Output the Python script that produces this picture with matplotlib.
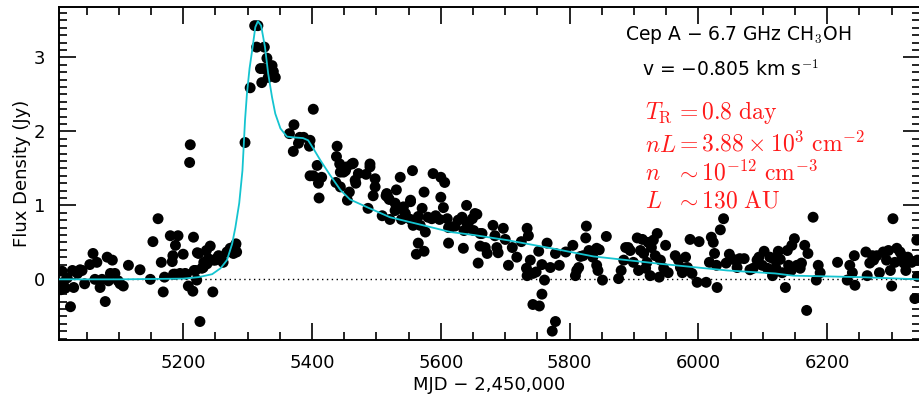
import matplotlib
matplotlib.use('Agg')
import matplotlib.pyplot as plt
from matplotlib.ticker import MultipleLocator

# observed flux densities (MJD - 2,450,000, Jy)
mjd = [5012, 5014, 5017, 5025, 5028, 5030, 5036, 5043, 5047, 5055, 5060, 5066, 5063, 5071, 5074,
       5079, 5082, 5090, 5084, 5087, 5094, 5099, 5107, 5115, 5133, 5149, 5153, 5161, 5166, 5169,
       5171, 5180, 5183, 5184, 5188, 5192, 5185, 5195, 5200, 5203, 5208, 5215, 5216, 5217, 5221,
       5224, 5226, 5229, 5232, 5236, 5239, 5242, 5246, 5250, 5255, 5260, 5268, 5273, 5278, 5282,
       5283, 5211, 5210, 5296, 5040, 5020, 5010, 5102, 5222, 5231, 5237, 5247, 5254, 5262, 5281,
       5219, 5205, 5188,
       5304, 5311, 5316, 5314, 5326, 5330, 5320, 5325, 5338, 5340, 5343, 5322, 5332, 5335,
       5365, 5372, 5371, 5379, 5381, 5387, 5397, 5396, 5402, 5408, 5397, 5402, 5410, 5411, 5415,
       5439, 5438, 5443, 5444, 5449, 5454, 5462, 5437, 5444, 5458, 5467, 5472, 5468, 5484, 5490,
       5490, 5498, 5498, 5495, 5516, 5518, 5531, 5537, 5556, 5553, 5574, 5588, 5600, 5606, 5600,
       5452, 5464, 5455, 5487, 5509, 5515, 5520, 5521, 5529, 5529, 5537, 5542, 5539, 5545, 5553,
       5553, 5557, 5565, 5571, 5568, 5576, 5565, 5562, 5574, 5580, 5586, 5592, 5604, 5598, 5610,
       5612, 5612, 5615, 5622, 5627, 5633, 5640, 5636, 5643, 5649, 5656, 5651, 5661, 5635, 5658,
       5661, 5669, 5672, 5681, 5684, 5687, 5689, 5697, 5700, 5705, 5711, 5718, 5725, 5734, 5736,
       5739, 5733, 5734, 5743, 5748, 5752, 5757, 5761, 5765, 5770, 5757, 5743, 5753, 5778, 5778,
       5773, 5641, 5653, 5664, 5784, 5794, 5805, 5809, 5811, 5814, 5817, 5821, 5826, 5825, 5830,
       5836, 5842, 5846, 5842, 5844, 5851, 5857, 5876, 5880, 5884, 5887, 5891, 5894, 5899, 5905,
       5907, 5910, 5913, 5915, 5918, 5920, 5922, 5925, 5927, 5930, 5933, 5936, 5939, 5941, 5946,
       5949, 5953, 5964, 5969, 5972, 5975, 5980, 5983, 5987, 5990, 5998, 6001, 6012, 6017, 6020,
       6023, 6025, 6028, 6029, 6034, 6039, 6043, 6048, 6054, 6060, 6064, 6071, 6080, 6085, 6091,
       6094, 6099, 6102, 6107, 6111, 6115, 6116, 6120, 6124, 6127, 6130, 6135, 6138, 6140, 6144,
       6145, 6149, 6153, 6158, 6160, 6165, 6168, 6170, 6178, 6183, 6186, 6189, 6216, 6231, 6235,
       6239, 6243, 6242, 6260, 6262, 6266, 6270, 6272, 6277, 6281, 6287, 6292, 6295, 6298, 6300,
       6302, 6305, 6308, 6313, 6316, 6319, 6322, 6325, 6331, 6336, 6339, 6340, 6340]
flux = [0.11, -0.04, -0.12, -0.37, 0.12, -0.11, 0.08, 0.12, -0.06, 0.20, 0.35, 0.23, 0.00, -0.11, 0.00,
        -0.30, 0.30, 0.26, -0.02, 0.08, 0.08, -0.02, -0.09, 0.19, 0.13, 0.00, 0.51, 0.82, 0.23, -0.17,
        0.03, 0.59, 0.24, 0.32, 0.46, 0.59, 0.07, 0.08, 0.34, 0.08, -0.09, -0.16, 0.57, 0.12, -0.01,
        0.35, -0.57, 0.15, 0.23, 0.39, 0.28, 0.45, -0.17, 0.26, 0.32, 0.26, 0.37, 0.42, 0.35, 0.48,
        0.37, 1.82, 1.58, 1.85, 0.13, 0.02, -0.14, -0.06, 0.36, 0.16, 0.21, 0.26, 0.30, 0.23, 0.46,
        0.12, 0.07, 0.07,
        2.59, 3.43, 3.43, 3.14, 3.14, 2.99, 2.85, 2.85, 2.89, 2.81, 2.73, 2.66, 2.73, 2.76,
        1.97, 2.09, 1.73, 1.84, 1.92, 1.92, 1.88, 1.80, 2.30, 1.54, 1.40, 1.40, 1.30, 1.10, 1.38,
        1.80, 1.66, 1.56, 1.45, 1.45, 1.52, 1.56, 1.31, 1.25, 1.18, 1.34, 1.43, 1.30, 1.42, 1.56,
        1.52, 1.36, 1.25, 1.13, 1.16, 1.11, 1.21, 1.38, 1.47, 1.07, 1.18, 1.43, 1.38, 1.31, 1.11,
        1.47, 1.57, 1.07, 0.96, 0.86, 1.13, 1.08, 0.81, 1.03, 0.93, 0.96, 0.98, 0.81, 0.89, 1.05,
        0.81, 0.73, 0.85, 0.96, 0.73, 0.64, 0.49, 0.34, 0.38, 0.84, 0.82, 0.86, 0.97, 0.81, 0.82,
        0.49, 0.70, 0.70, 0.72, 0.80, 0.84, 1.00, 0.66, 0.77, 0.82, 0.88, 0.66, 0.62, 0.42, 0.22,
        0.45, 0.43, 0.35, 0.73, 0.59, 0.43, 0.36, 0.69, 0.54, 0.19, 0.43, 0.30, 0.51, 0.69, 0.59,
        0.26, 0.15, 0.05, 0.08, 0.10, 0.38, 0.20, -0.01, 0.49, 0.16, -0.20, -0.34, -0.36, 0.35, -0.57,
        -0.70, 0.75, 0.89, 0.62, 0.19, 0.37, 0.46, 0.05, 0.12, 0.16, 0.31, 0.32, 0.72, 0.56, 0.39,
        0.30, 0.42, 0.40, 0.19, 0.12, -0.01, 0.58, 0.01, 0.12, 0.26, 0.43, 0.43, 0.39, 0.23, 0.56,
        0.12, 0.39, 0.54, 0.35, 0.15, 0.23, 0.50, 0.05, 0.43, 0.53, 0.32, 0.62, 0.03, 0.26, 0.15,
        0.46, 0.09, 0.32, 0.26, 0.16, 0.09, 0.30, 0.16, 0.54, 0.08, -0.04, 0.51, -0.04, 0.23, 0.57,
        0.50, 0.35, 0.19, -0.11, 0.67, 0.82, 0.22, 0.34, 0.27, 0.16, 0.28, 0.28, 0.13, 0.15, 0.26,
        0.30, 0.19, 0.38, 0.15, 0.30, 0.05, 0.28, 0.16, 0.38, 0.27, 0.09, -0.11, 0.39, 0.19, 0.12,
        0.46, 0.55, 0.19, 0.15, 0.22, 0.46, -0.42, 0.35, 0.84, -0.01, 0.19, 0.09, 0.23, -0.01, 0.19,
        0.09, -0.08, 0.32, 0.37, 0.05, 0.22, 0.32, 0.26, 0.32, 0.09, 0.37, 0.26, 0.39, 0.12, -0.09,
        0.82, 0.23, 0.42, 0.37, 0.32, 0.22, 0.12, 0.30, 0.23, -0.26, 0.53, 0.26, 0.04]

# model light curve
model_mjd = [5007, 5100, 5200, 5224, 5245, 5258, 5268, 5276, 5281, 5287, 5292, 5296, 5299, 5303,
             5307, 5312, 5316, 5321, 5327, 5332, 5338, 5343, 5351, 5361, 5371, 5386, 5394, 5402,
             5413, 5428, 5444, 5459, 5487, 5521, 5573, 5615, 5651, 5703, 5778, 5837, 5941, 6045,
             6119, 6147, 6251, 6344]
model_flux = [0.00, 0.00, 0.01, 0.03, 0.07, 0.15, 0.26, 0.48, 0.70, 1.03, 1.47, 2.15, 2.51, 2.85,
              3.09, 3.41, 3.49, 3.43, 3.14, 2.78, 2.46, 2.24, 2.04, 1.93, 1.92, 1.91, 1.88, 1.77,
              1.61, 1.41, 1.21, 1.08, 0.97, 0.84, 0.73, 0.64, 0.60, 0.53, 0.41, 0.31, 0.21, 0.12,
              0.08, 0.05, 0.03, 0.00]

x_ticks = [5200, 5400, 5600, 5800, 6000, 6200]
y_ticks = [0, 1, 2, 3]

params = [(r'$T_{\rm R}$', r'$= 0.8\ {\rm day}$'),
          (r'$nL$', r'$= 3.88\times10^{3}\ {\rm cm}^{-2}$'),
          (r'$n$', r'$\sim 10^{-12}\ {\rm cm}^{-3}$'),
          (r'$L$', r'$\sim 130\ {\rm AU}$')]

plt.rcParams['font.family'] = ['DejaVu Sans']
plt.rcParams['mathtext.fontset'] = 'cm'

fig = plt.figure(figsize=(9.2, 3.96), dpi=100)
ax = fig.add_axes([0.064, 0.1414, 0.936, 0.8405])

ax.axhline(0, color='black', linestyle=(0, (1, 2.5)), linewidth=1.0, zorder=1)
ax.scatter(mjd, flux, s=62, color='black', edgecolors='none', zorder=2)
ax.plot(model_mjd, model_flux, color='#14c4d0', linewidth=1.3, zorder=3)

ax.set_xlim(5007, 6344)
ax.set_ylim(-0.82, 3.68)
ax.set_xticks(x_ticks)
ax.set_yticks(y_ticks)
ax.xaxis.set_minor_locator(MultipleLocator(50))
ax.yaxis.set_minor_locator(MultipleLocator(0.1))
ax.tick_params(which='both', direction='in', top=True, right=True, width=1.2, labelsize=13)
ax.tick_params(which='major', length=12)
ax.tick_params(which='minor', length=6)
ax.tick_params(axis='x', pad=10)
ax.tick_params(axis='y', pad=10)
for sp in ax.spines.values():
    sp.set_linewidth(1.4)

ax.set_xlabel('MJD − 2,450,000', fontsize=13, labelpad=3)
ax.set_ylabel('Flux Density (Jy)', fontsize=13, labelpad=2)

ax.text(0.789, 0.916, r'Cep A − 6.7 GHz CH$_3$OH', transform=ax.transAxes,
        ha='center', va='center', fontsize=13.5)
ax.text(0.78, 0.814, r'v = −0.805 km s$^{-1}$', transform=ax.transAxes,
        ha='center', va='center', fontsize=13.5)

ys = [0.664, 0.566, 0.481, 0.398]
for (lab, val), yy in zip(params, ys):
    ax.text(0.681, yy, lab, transform=ax.transAxes, color='#ff1a1a', fontsize=17, va='baseline')
    ax.text(0.716, yy, val, transform=ax.transAxes, color='#ff1a1a', fontsize=17, va='baseline')

fig.savefig('out.png', dpi=100)
